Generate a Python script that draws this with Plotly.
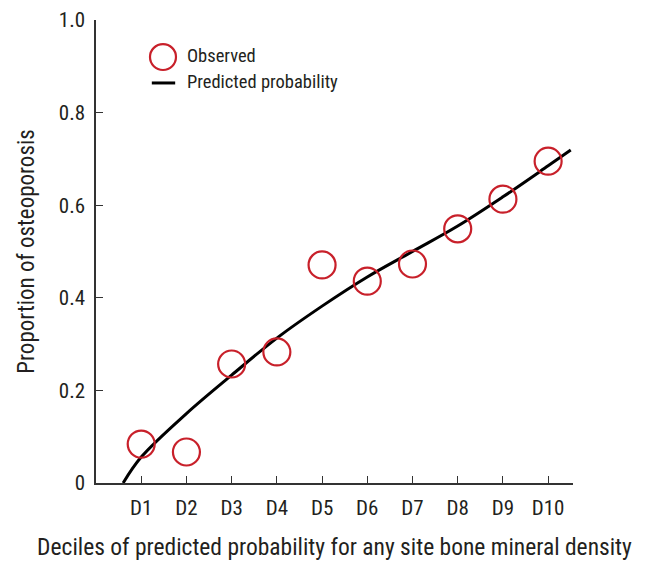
import plotly.graph_objects as go

deciles = ["D1", "D2", "D3", "D4", "D5", "D6", "D7", "D8", "D9", "D10"]
decile_pos = [1, 2, 3, 4, 5, 6, 7, 8, 9, 10]
observed = [0.084, 0.067, 0.257, 0.283, 0.471, 0.436, 0.473, 0.549, 0.613, 0.695]

pred_x = [0.6, 1, 2, 3, 4, 5, 6, 7, 8, 9, 10, 10.5]
pred_y = [0.0, 0.056, 0.150, 0.233, 0.313, 0.382, 0.445, 0.500, 0.555, 0.618, 0.685, 0.719]

FONT = "Roboto Condensed, Roboto, sans-serif"
TXT = "#231f20"
RED = "#c8202a"

fig = go.Figure()
fig.add_trace(go.Scatter(x=pred_x, y=pred_y, mode="lines", line=dict(color="black", width=3, shape="spline"),
                         name="Predicted probability", showlegend=False, cliponaxis=False))
fig.add_trace(go.Scatter(x=decile_pos, y=observed, mode="markers",
                         marker=dict(symbol="circle-open", size=27, color=RED, line=dict(width=2.2, color=RED)),
                         name="Observed", showlegend=False, cliponaxis=False))

# manual legend
fig.add_shape(type="circle", xref="paper", yref="paper", x0=0.1132, x1=0.1677, y0=0.892, y1=0.948,
              line=dict(color=RED, width=2.2))
fig.add_shape(type="line", xref="paper", yref="paper", x0=0.117, x1=0.166, y0=0.864, y1=0.864,
              line=dict(color="black", width=3))
fig.add_annotation(xref="paper", yref="paper", x=0.186, y=0.922, text="Observed", showarrow=False,
                   xanchor="left", yanchor="middle", font=dict(family=FONT, size=18.5, color=TXT))
fig.add_annotation(xref="paper", yref="paper", x=0.186, y=0.866, text="Predicted probability", showarrow=False,
                   xanchor="left", yanchor="middle", font=dict(family=FONT, size=18.5, color=TXT))

fig.update_layout(
    width=648, height=572,
    margin=dict(l=88, r=83, t=12, b=97),
    paper_bgcolor="white", plot_bgcolor="white",
    font=dict(family=FONT, color=TXT),
    xaxis=dict(range=[0, 10.55], tickvals=decile_pos, ticktext=deciles, ticks="inside", ticklen=7,
               tickcolor="#333", showline=True, linecolor="#333", linewidth=1.5, showgrid=False, zeroline=False,
               automargin=False, ticklabelstandoff=5,
               tickfont=dict(size=21, family=FONT, color=TXT),
               title=dict(text="Deciles of predicted probability for any site bone mineral density",
                          font=dict(size=23.5, family=FONT, color=TXT), standoff=20)),
    yaxis=dict(range=[0, 1.0], tickvals=[0, 0.2, 0.4, 0.6, 0.8, 1.0], ticktext=["0", "0.2", "0.4", "0.6", "0.8", "1.0"],
               ticks="inside", ticklen=7, tickcolor="#333", showline=True, linecolor="#333", linewidth=1.5,
               showgrid=False, zeroline=False, automargin=False, ticklabelstandoff=5,
               tickfont=dict(size=21, family=FONT, color=TXT),
               title=dict(text="Proportion of osteoporosis", font=dict(size=23, family=FONT, color=TXT), standoff=18)),
)
fig.write_html("out.html")
